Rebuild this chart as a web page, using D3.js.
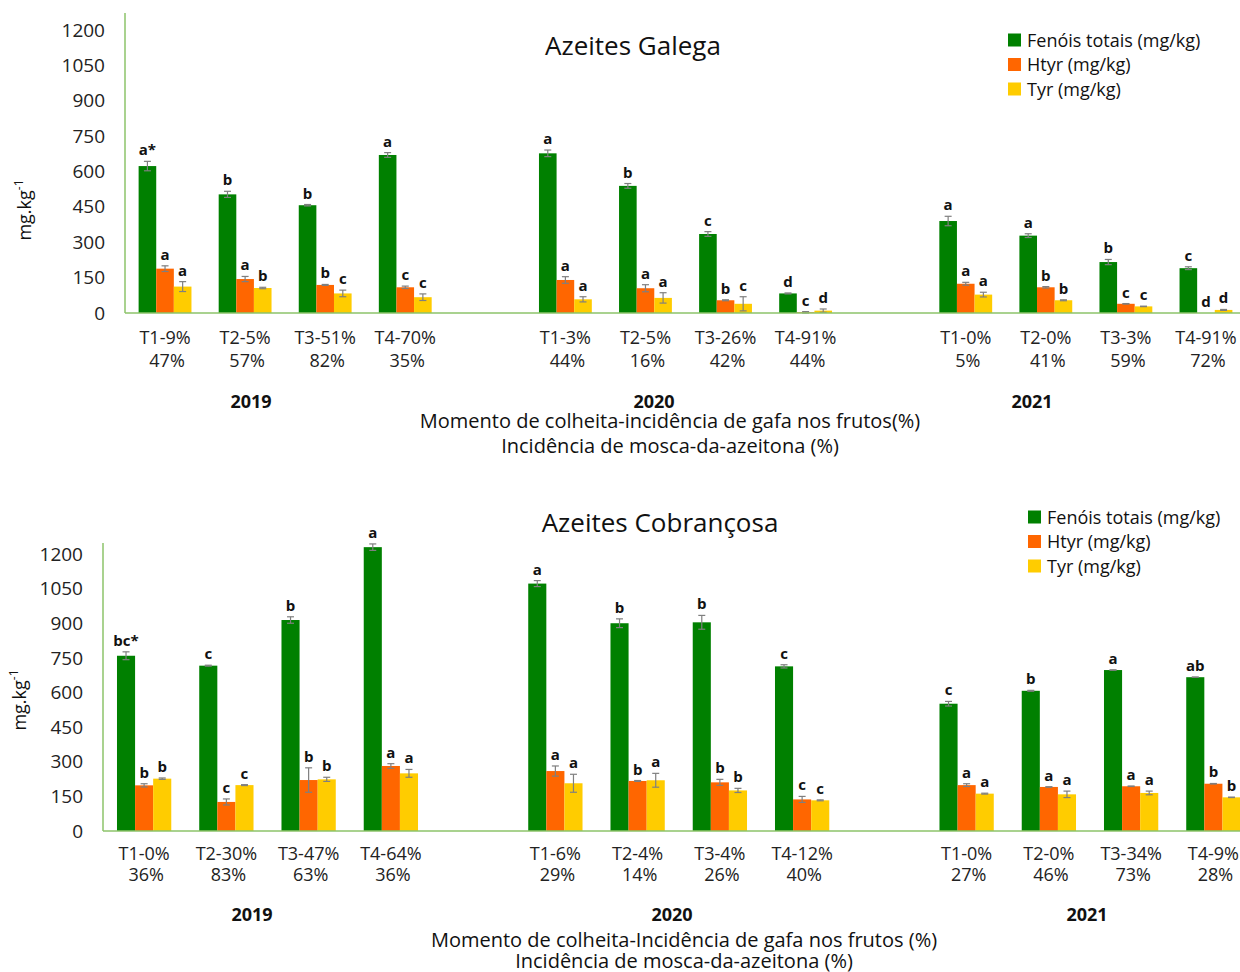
<!DOCTYPE html>
<html>
<head>
<meta charset="utf-8">
<script src="https://cdn.jsdelivr.net/npm/d3@7"></script>
<style>
  html, body { margin: 0; padding: 0; background: #fff; }
  svg { display: block; font-family: "Open Sans", sans-serif; }
</style>
</head>
<body>
<svg id="chart" width="1240" height="972"></svg>
<script>
// Series shared by both panels
const seriesNames = ["Fenóis totais (mg/kg)", "Htyr (mg/kg)", "Tyr (mg/kg)"];
const seriesColors = ["#008000", "#ff6600", "#ffcc00"];
const years = ["2019", "2020", "2021"];
const yTicks = [0, 150, 300, 450, 600, 750, 900, 1050, 1200];

// Azeites Galega
const galegaTreat = ["T1-9%", "T2-5%", "T3-51%", "T4-70%", "T1-3%", "T2-5%", "T3-26%", "T4-91%", "T1-0%", "T2-0%", "T3-3%", "T4-91%"];
const galegaFly = ["47%", "57%", "82%", "35%", "44%", "16%", "42%", "44%", "5%", "41%", "59%", "72%"];
const galegaFenois = [623, 503, 457, 670, 677, 539, 335, 83, 390, 328, 216, 190];
const galegaFenoisErr = [20, 13, 3, 10, 14, 10, 10, 2, 20, 8, 11, 6];
const galegaHtyr = [188, 144, 119, 109, 140, 105, 54, 3, 124, 109, 39, 0];
const galegaHtyrErr = [12, 11, 2, 5, 14, 15, 2, 3, 6, 3, 1, 0];
const galegaTyr = [112, 106, 83, 67, 58, 64, 39, 10, 78, 54, 28, 13];
const galegaTyrErr = [21, 3, 14, 14, 11, 22, 30, 7, 10, 2, 1, 2];
const galegaFenoisSig = ["a*", "b", "b", "a", "a", "b", "c", "d", "a", "a", "b", "c"];
const galegaHtyrSig = ["a", "a", "b", "c", "a", "a", "b", "c", "a", "b", "c", "d"];
const galegaTyrSig = ["a", "b", "c", "c", "a", "a", "c", "d", "a", "b", "c", "d"];

// Azeites Cobrançosa
const cobTreat = ["T1-0%", "T2-30%", "T3-47%", "T4-64%", "T1-6%", "T2-4%", "T3-4%", "T4-12%", "T1-0%", "T2-0%", "T3-34%", "T4-9%"];
const cobFly = ["36%", "83%", "63%", "36%", "29%", "14%", "26%", "40%", "27%", "46%", "73%", "28%"];
const cobFenois = [760, 717, 915, 1231, 1073, 901, 905, 714, 552, 608, 698, 667];
const cobFenoisErr = [17, 2, 14, 14, 13, 19, 30, 7, 10, 2, 1, 1];
const cobHtyr = [198, 126, 221, 282, 260, 217, 211, 137, 199, 191, 194, 205];
const cobHtyrErr = [7, 13, 53, 10, 22, 2, 13, 13, 6, 1, 1, 1];
const cobTyr = [227, 199, 224, 250, 207, 220, 176, 133, 162, 159, 165, 146];
const cobTyrErr = [3, 2, 9, 17, 39, 30, 9, 2, 2, 14, 8, 1];
const cobFenoisSig = ["bc*", "c", "b", "a", "a", "b", "b", "c", "c", "b", "a", "ab"];
const cobHtyrSig = ["b", "c", "b", "a", "a", "b", "b", "c", "a", "a", "a", "b"];
const cobTyrSig = ["b", "c", "b", "a", "a", "a", "b", "c", "a", "a", "a", "b"];

const svg = d3.select("#chart");
const axisColor = "#8cc36a";

function drawPanel(cfg) {
  const g = svg.append("g");

  // 14 slots: 4 treatments per year with an empty slot between years
  const slots = [];
  cfg.treat.forEach((t, i) => {
    slots.push("s" + i);
    if (i === 3 || i === 7) slots.push("gap" + i);
  });
  const x = d3.scaleBand().domain(slots).range([cfg.x0, cfg.x1])
    .paddingInner(0.34).paddingOuter(0.17);
  const xs = d3.scaleBand().domain([0, 1, 2]).range([0, x.bandwidth()]);
  const y = d3.scaleLinear().domain([0, cfg.yMax]).range([cfg.yBase, cfg.yTop]);

  const rows = cfg.treat.map((t, i) => ({
    slot: "s" + i,
    vals: cfg.values.map(v => v[i]),
    errs: cfg.errs.map(v => v[i]),
    sig: cfg.sig.map(v => v[i])
  }));

  // bars
  rows.forEach(r => {
    r.vals.forEach((v, k) => {
      g.append("rect")
        .attr("x", x(r.slot) + xs(k))
        .attr("y", y(v))
        .attr("width", xs.bandwidth())
        .attr("height", y(0) - y(v))
        .attr("fill", seriesColors[k]);
    });
  });

  // error bars and significance letters
  rows.forEach(r => {
    r.vals.forEach((v, k) => {
      const cx = x(r.slot) + xs(k) + xs.bandwidth() / 2;
      const e = r.errs[k];
      if (e > 0) {
        const lo = Math.max(0, v - e), hi = v + e;
        g.append("line").attr("x1", cx).attr("x2", cx)
          .attr("y1", y(lo)).attr("y2", y(hi))
          .attr("stroke", "#7f7f7f").attr("stroke-width", 1.2);
        [lo, hi].forEach(val => {
          g.append("line").attr("x1", cx - 3.5).attr("x2", cx + 3.5)
            .attr("y1", y(val)).attr("y2", y(val))
            .attr("stroke", "#7f7f7f").attr("stroke-width", 1.2);
        });
      }
      g.append("text")
        .attr("x", cx)
        .attr("y", y(v + e) - 6)
        .attr("text-anchor", "middle")
        .attr("font-size", 15)
        .attr("font-weight", "bold")
        .attr("fill", "#111")
        .text(r.sig[k]);
    });
  });

  // axes lines
  g.append("line").attr("x1", cfg.x0).attr("x2", cfg.x1)
    .attr("y1", y(0)).attr("y2", y(0))
    .attr("stroke", axisColor).attr("stroke-width", 1.5);
  g.append("line").attr("x1", cfg.x0).attr("x2", cfg.x0)
    .attr("y1", y(0)).attr("y2", y(cfg.yMax))
    .attr("stroke", axisColor).attr("stroke-width", 1.5);

  // y tick labels
  const yAxis = d3.axisLeft(y).tickValues(yTicks).tickFormat(d3.format("d"))
    .tickSize(0).tickPadding(cfg.tickPad);
  const ya = g.append("g").attr("transform", `translate(${cfg.x0},0)`).call(yAxis);
  ya.select(".domain").remove();
  ya.selectAll("text").attr("font-size", 19).attr("fill", "#222")
    .attr("font-family", "Open Sans, sans-serif");

  // y axis title
  const yt = g.append("text")
    .attr("transform", `translate(${cfg.yTitleX},${cfg.yTitleY}) rotate(-90)`)
    .attr("text-anchor", "middle")
    .attr("font-size", 18).attr("fill", "#111");
  yt.append("tspan").text("mg.kg");
  yt.append("tspan").attr("dy", -8).attr("font-size", 12).text("-1");

  // category labels (two lines)
  rows.forEach((r, i) => {
    const cx = x(r.slot) + x.bandwidth() / 2;
    g.append("text").attr("x", cx).attr("y", cfg.catY1)
      .attr("text-anchor", "middle").attr("font-size", 18).attr("fill", "#222")
      .text(cfg.treat[i]);
    g.append("text").attr("x", cx + 2).attr("y", cfg.catY2)
      .attr("text-anchor", "middle").attr("font-size", 18).attr("fill", "#222")
      .text(cfg.fly[i]);
  });

  // year labels
  years.forEach((yr, j) => {
    g.append("text").attr("x", cfg.yearX[j]).attr("y", cfg.yearY)
      .attr("text-anchor", "middle").attr("font-size", 18)
      .attr("font-weight", "bold").attr("fill", "#111").text(yr);
  });

  // x axis title
  cfg.xTitle.forEach((line, j) => {
    g.append("text").attr("x", cfg.xTitleX).attr("y", cfg.xTitleY[j])
      .attr("text-anchor", "middle").attr("font-size", 20).attr("fill", "#111")
      .text(line);
  });

  // chart title
  g.append("text").attr("x", cfg.titleX).attr("y", cfg.titleY)
    .attr("text-anchor", "middle").attr("font-size", 26).attr("fill", "#111")
    .text(cfg.title);

  // legend
  seriesNames.forEach((name, k) => {
    const ly = cfg.legendY + k * 24.5;
    g.append("rect").attr("x", cfg.legendX).attr("y", ly - 6.5)
      .attr("width", 13).attr("height", 13).attr("fill", seriesColors[k]);
    g.append("text").attr("x", cfg.legendX + 19).attr("y", ly + 6.5)
      .attr("font-size", 18).attr("fill", "#111").text(name);
  });
}

drawPanel({
  title: "Azeites Galega", titleX: 633, titleY: 55,
  treat: galegaTreat, fly: galegaFly,
  values: [galegaFenois, galegaHtyr, galegaTyr],
  errs: [galegaFenoisErr, galegaHtyrErr, galegaTyrErr],
  sig: [galegaFenoisSig, galegaHtyrSig, galegaTyrSig],
  x0: 125, x1: 1246, yBase: 313, yTop: 13, yMax: 1272,
  tickPad: 20, yTitleX: 31, yTitleY: 210,
  catY1: 343.5, catY2: 366.5, yearY: 408, yearX: [251, 654, 1032],
  xTitle: ["Momento de colheita-incidência de gafa nos frutos(%)", "Incidência de mosca-da-azeitona (%)"],
  xTitleX: 670, xTitleY: [428, 453],
  legendX: 1008, legendY: 40
});

drawPanel({
  title: "Azeites Cobrançosa", titleX: 660, titleY: 532,
  treat: cobTreat, fly: cobFly,
  values: [cobFenois, cobHtyr, cobTyr],
  errs: [cobFenoisErr, cobHtyrErr, cobTyrErr],
  sig: [cobFenoisSig, cobHtyrSig, cobTyrSig],
  x0: 103, x1: 1254.5, yBase: 831, yTop: 543, yMax: 1249,
  tickPad: 20, yTitleX: 26, yTitleY: 700,
  catY1: 859.5, catY2: 880.5, yearY: 921, yearX: [252, 672, 1087],
  xTitle: ["Momento de colheita-Incidência de gafa nos frutos (%)", "Incidência de mosca-da-azeitona (%)"],
  xTitleX: 684, xTitleY: [947, 968],
  legendX: 1028, legendY: 517
});
</script>
</body>
</html>
